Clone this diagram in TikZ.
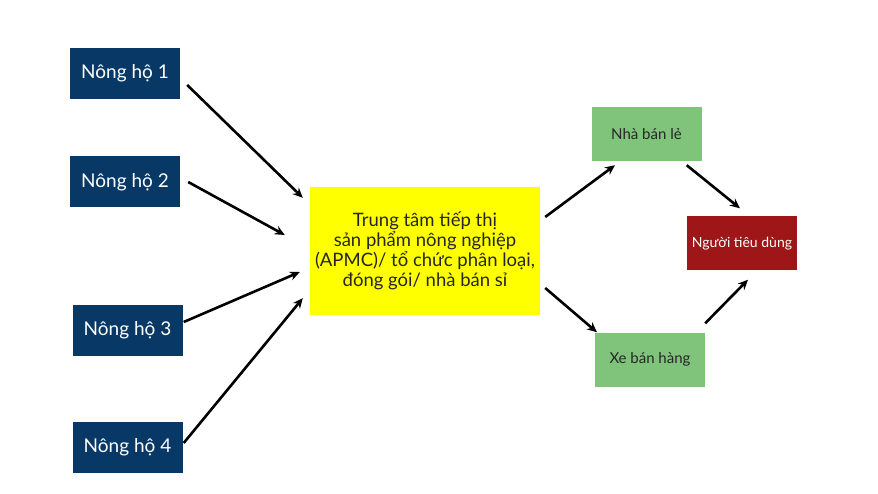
\documentclass[tikz,border=0pt]{standalone}
\usepackage{fontspec}
\setmainfont{Lato}
\usetikzlibrary{arrows.meta,calc}
\definecolor{farmblue}{RGB}{8,56,102}
\definecolor{shopgreen}{RGB}{128,196,124}
\definecolor{buyerred}{RGB}{158,22,24}
\definecolor{hubyellow}{RGB}{255,255,0}
\tikzset{
  farm/.style={fill=farmblue,text=white,minimum width=110pt,minimum height=51pt,inner sep=0pt,font=\fontsize{19}{22}\selectfont},
  shop/.style={fill=shopgreen,text=black!85,minimum width=110pt,minimum height=54pt,inner sep=0pt,font=\fontsize{15}{18}\selectfont},
  flow/.style={line width=2.6pt,-{Stealth[length=10pt,width=9pt]}}
}
\begin{document}
\begin{tikzpicture}[x=1pt,y=-1pt]
   \useasboundingbox (0,0) rectangle (878,494);
   % producers
   \node[farm] (n1) at (125,73.5) {Nông hộ 1};
   \node[farm] (n2) at (125,182) {Nông hộ 2};
   \node[farm] (n3) at (127.5,330.5) {Nông hộ 3};
   \node[farm] (n4) at (127.5,447.5) {Nông hộ 4};
   % market centre
   \node[fill=hubyellow,minimum width=230pt,minimum height=128pt,inner sep=0pt,align=center,
         font=\fontsize{18.5}{20}\selectfont,text=black!85] (hub) at (425,251)
         {Trung tâm tiếp thị\\sản phẩm nông nghiệp\\(APMC)/ tổ chức phân loại,\\đóng gói/ nhà bán sỉ};
   % sellers
   \node[shop] (retail) at (646.5,134) {Nhà bán lẻ};
   \node[shop] (cart) at (650,359.5) {Xe bán hàng};
   \node[shop,fill=buyerred,text=white,font=\fontsize{14}{17}\selectfont] (buyer) at (742,243.5) {Người tiêu dùng};
   % arrows
   \draw[flow] ($(n1.east)+(7,11.5)$) -- ($(hub.north west)+(-7,11)$);
   \draw[flow] ($(n2.east)+(8,0)$) -- ($(hub.west)+(-25,-16)$);
   \draw[flow] ($(n3.east)+(1,-8.5)$) -- ($(hub.west)+(-10,21)$);
   \draw[flow] ($(n4.east)+(1,-4.5)$) -- ($(hub.south west)+(-7,-17)$);
   \draw[flow] ($(hub.east)+(5,-34)$) -- ($(retail.south)+(-31.5,4)$);
   \draw[flow] ($(hub.east)+(5,37)$) -- ($(cart.north)+(-53,0)$);
   \draw[flow] ($(retail.south east)+(-15,4)$) -- ($(buyer.north)+(-2,-8)$);
   \draw[flow] ($(cart.north east)+(0,-9)$) -- ($(buyer.south)+(6,9)$);
\end{tikzpicture}
\end{document}
